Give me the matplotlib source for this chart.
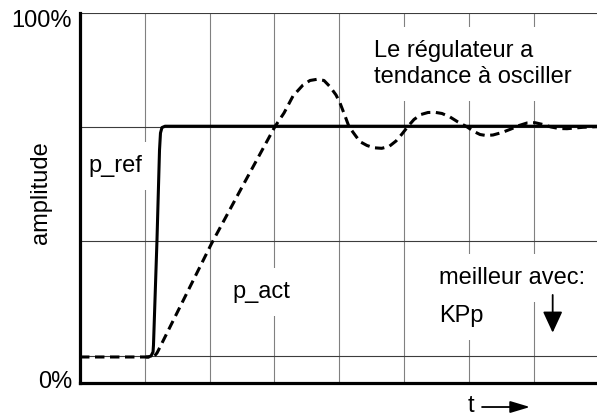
import matplotlib
matplotlib.use("Agg")
import matplotlib.pyplot as plt
from matplotlib.transforms import blended_transform_factory

plt.rcParams["font.family"] = ["Liberation Sans", "DejaVu Sans"]
plt.rcParams["lines.scale_dashes"] = False

# time axis in grid divisions, amplitude in percent
t_ref = [1.02, 1.05, 1.096, 1.127, 1.134, 1.188, 1.227, 1.242, 1.265, 1.312, 7.978]
p_ref = [7.03, 7.03, 7.3, 8.4, 10.27, 38.65, 62.97, 67.57, 69.05, 69.4, 69.4]

t_act = [0.0, 1.080, 1.142, 1.188, 1.235, 2.032, 2.515, 3.009, 3.148, 3.287,
         3.441, 3.549, 3.657, 3.765, 3.858, 3.951, 4.012, 4.090, 4.151, 4.244,
         4.321, 4.429, 4.537, 4.656, 4.769, 4.877, 4.969, 5.062, 5.154, 5.262,
         5.370, 5.478, 5.586, 5.710, 5.833, 5.968, 6.080, 6.173, 6.265, 6.373,
         6.512, 6.651, 6.775, 6.898, 7.022, 7.145, 7.269, 7.392, 7.515, 7.639,
         7.762, 7.978]
p_act = [7.03, 7.03, 7.16, 8.11, 9.73, 37.76, 53.43, 69.32, 72.97, 77.57,
         80.54, 81.76, 82.08, 81.76, 80.08, 77.84, 75.68, 72.16, 69.27, 67.03,
         65.22, 64.19, 63.57, 63.43, 63.92, 65.41, 67.30, 69.38, 71.22, 72.57,
         73.11, 73.16, 72.84, 71.89, 70.54, 69.27, 67.97, 67.16, 66.89, 67.03,
         67.70, 68.65, 69.59, 70.27, 70.35, 69.86, 69.19, 68.78, 68.73, 68.92,
         69.11, 69.27]

grid_t = [1, 2, 3, 4, 5, 6, 7]
grid_amp = [7.4, 38.4, 69.3, 100]

FS = 17

fig = plt.figure(figsize=(5.97, 4.16), dpi=100)
ax = fig.add_axes([80 / 597, 33 / 416, 517 / 597, 370 / 416])
ax.set_xlim(0, 7.978)
ax.set_ylim(0, 100)

for g in grid_t:
    ax.axvline(g, color="#808080", lw=0.8, zorder=0.5)
for g in grid_amp:
    ax.axhline(g, color="#3c3c3c", lw=0.8, zorder=0.5)

ax.plot(t_act, p_act, color="black", lw=2.2, dashes=(6.8, 4.0),
        dash_joinstyle="round", zorder=3)
ax.plot(t_ref, p_ref, color="black", lw=2.2, solid_joinstyle="round",
        solid_capstyle="butt", zorder=3)

for s in ("top", "right"):
    ax.spines[s].set_visible(False)
for s in ("left", "bottom"):
    ax.spines[s].set_linewidth(2.3)
    ax.spines[s].set_color("black")
    ax.spines[s].set_zorder(4)
ax.set_xticks([])
ax.set_yticks([])

white = dict(boxstyle="square,pad=0.55", facecolor="white", edgecolor="none")

ax.text(0.123, 57.1, "p_ref", fontsize=FS, ha="left", va="baseline",
        bbox=white, zorder=1)
ax.text(2.346, 22.9, "p_act", fontsize=FS, ha="left", va="baseline",
        bbox=white, zorder=1)
ax.text(4.537, 81.0, "Le régulateur a\ntendance à osciller", fontsize=FS,
        ha="left", va="baseline", linespacing=1.27, bbox=white, zorder=1)
ax.text(5.540, 26.7, "meilleur avec:", fontsize=FS, ha="left", va="baseline",
        bbox=white, zorder=1)
ax.text(5.540, 16.6, "KPp", fontsize=FS, ha="left", va="baseline",
        bbox=white, zorder=1)
ax.annotate("", xy=(7.294, 13.6), xytext=(7.294, 23.8),
            arrowprops=dict(arrowstyle="-|>,head_length=0.65,head_width=0.3",
                            mutation_scale=20, lw=1.3, color="black",
                            shrinkA=0, shrinkB=0), zorder=2)

ytr = blended_transform_factory(ax.transAxes, ax.transData)
ax.text(-0.0155, 96.3, "100%", fontsize=FS, ha="right", va="baseline",
        transform=ytr)
ax.text(-0.0155, -1.3, "0%", fontsize=FS, ha="right", va="baseline",
        transform=ytr)
ax.text(-0.0754, 51.4, "amplitude", fontsize=FS, rotation=90,
        ha="center", va="center", transform=ytr)

xtr = ax.get_xaxis_transform()
ax.text(6.026, -0.0775, "t", fontsize=FS, ha="center", va="baseline",
        transform=xtr, clip_on=False)
ax.annotate("", xy=(6.944, -0.0649), xytext=(6.204, -0.0649),
            xycoords=xtr, textcoords=xtr, annotation_clip=False,
            arrowprops=dict(arrowstyle="-|>,head_length=0.6,head_width=0.18",
                            mutation_scale=20, lw=1.3, color="black",
                            shrinkA=0, shrinkB=0))

fig.savefig("out.png", dpi=100)
